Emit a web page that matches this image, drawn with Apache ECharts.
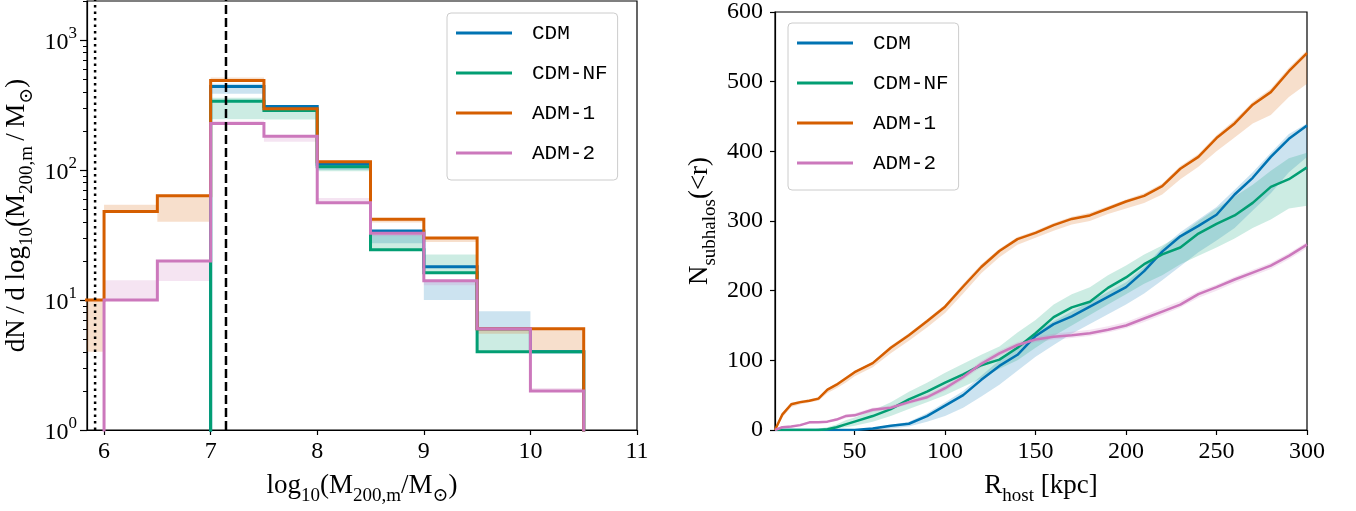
<!DOCTYPE html>
<html><head><meta charset="utf-8">
<script src="https://cdn.jsdelivr.net/npm/echarts@6/dist/echarts.min.js"></script>
<style>html,body{margin:0;padding:0;background:#fff}#c{width:1356px;height:511px}</style>
</head><body><div id="c"></div>
<script>
// ---------- shared ----------
const seriesNames = ['CDM', 'CDM-NF', 'ADM-1', 'ADM-2'];
const seriesColors = ['#0173b2', '#029e73', '#d55e00', '#cc78bc'];
const bandColors = ['rgba(1,115,178,0.2)', 'rgba(2,158,115,0.2)', 'rgba(213,94,0,0.2)', 'rgba(204,120,188,0.2)'];

// ---------- left panel: mass function histogram ----------
const binEdges = [5.5, 6, 6.5, 7, 7.5, 8, 8.5, 9, 9.5, 10, 10.5];
const histCDM   = [0, 0, 0, 440, 309, 111, 34, 18, 6, 4];
const histCDMNF = [0, 0, 0, 338, 288, 106, 24.4, 16.2, 4, 4];
const histADM1  = [10, 48, 63.5, 490, 297, 116, 41.9, 30, 6, 6];
const histADM2  = [0, 10, 20, 228, 182, 56, 32.7, 14.1, 6, 2];
const bandLoCDM   = [null, null, null, 387, 280, 100, 27.4, 10, 6.1, null];
const bandHiCDM   = [null, null, null, 462, 310, 112, 34.3, 14.2, 8.2, null];
const bandLoCDMNF = [null, null, null, 246, 245, 98, 24.4, 16, 4, null];
const bandHiCDMNF = [null, null, null, 361, 288, 106, 31.7, 22.4, 6, null];
const bandLoADM1  = [4, 48, 40, 485, 290, 110, 39.5, 28, 5.5, 4];
const bandHiADM1  = [10, 54, 63.5, 515, 300, 118, 42, 30, 6, 6];
const bandLoADM2  = [null, 10, 14, 222, 165, 56, 31, 13, 5.8, 2];
const bandHiADM2  = [null, 14.2, 20, 240, 182, 61, 33, 14.1, 6, 2.1];
const massTicks = [6, 7, 8, 9, 10, 11];
const countMajorTicks = [1, 10, 100, 1000];
const countMinorTicks = [2,3,4,5,6,7,8,9,20,30,40,50,60,70,80,90,200,300,400,500,600,700,800,900,2000];
const resolutionLimit = 5.916;   // dotted line
const convergenceLimit = 7.144;  // dashed line

// ---------- right panel: cumulative radial distribution ----------
const radius = [6,10,15,20,25,30,35,40,45,50,60,70,80,90,100,110,120,130,140,150,160,170,180,190,200,210,220,230,240,250,260,270,280,290,300];
const nCDM   = [0,0,0,0,0,0,0,0,0,0,2,6,9,20,35,50,72,92,108,135,152,163,177,191,205,228,256,278,293,309,338,362,392,418,437];
const nCDMNF = [0,0,0,0,0,0,1,4,8,12,20,30,44,55,68,80,93,101,118,139,162,176,184,204,219,238,252,262,282,296,308,326,349,360,377];
const nADM1  = [0,22,37,40,42,45,58,65,74,83,96,118,136,156,177,206,234,257,274,283,294,303,308,318,328,336,350,375,392,419,440,467,485,515,541];
const nADM2  = [0,4,5,7,11,11,12,15,20,21,29,32,40,47,60,76,95,110,122,130,134,136,139,144,150,160,170,180,195,205,216,226,236,250,266];
const nLoCDM   = [0,0,0,0,0,0,0,0,0,0,0,2,5,12,20,32,48,65,85,105,122,138,152,166,180,196,215,235,255,272,290,315,340,370,392];
const nHiCDM   = [0,0,0,0,0,0,0,0,0,0,3,7,12,24,40,56,78,100,120,140,156,170,184,198,212,234,262,284,302,320,345,370,398,425,440];
const nLoCDMNF = [0,0,0,0,0,0,0,2,4,6,12,20,30,40,50,62,74,88,100,118,135,150,165,180,195,210,222,238,250,262,275,290,302,318,322];
const nHiCDMNF = [0,0,0,0,0,2,4,8,14,18,28,40,55,68,82,95,108,120,140,158,180,195,205,222,236,252,265,280,300,318,335,352,372,390,398];
const nLoADM1  = [0,18,33,37,40,42,53,60,68,77,90,110,128,147,168,196,225,248,266,276,286,295,300,310,318,326,338,360,378,400,420,440,452,478,497];
const nHiADM1  = [0,24,39,42,44,47,60,67,76,85,98,121,139,159,180,210,238,260,277,286,297,306,312,321,331,340,354,379,396,423,445,471,490,520,545];
const nLoADM2  = [0,3,4,6,9,10,11,13,17,19,26,30,37,44,56,72,90,106,118,126,130,132,135,140,146,155,165,176,190,200,211,221,231,245,261];
const nHiADM2  = [0,5,6,9,12,12,14,17,22,24,32,35,43,51,64,80,99,114,126,134,138,141,144,149,155,165,175,185,199,209,220,230,240,254,270];
const radiusTicks = [50, 100, 150, 200, 250, 300];

// ---------- build ----------
const FLOOR = 0.1; // empty bins sit below the log axis
const hists = [histCDM, histCDMNF, histADM1, histADM2];
const bandLo = [bandLoCDM, bandLoCDMNF, bandLoADM1, bandLoADM2];
const bandHi = [bandHiCDM, bandHiCDMNF, bandHiADM1, bandHiADM2];
const cumul = [nCDM, nCDMNF, nADM1, nADM2];
const cumLo = [nLoCDM, nLoCDMNF, nLoADM1, nLoADM2];
const cumHi = [nHiCDM, nHiCDMNF, nHiADM1, nHiADM2];

function stepPoints(vals) {
  const pts = [[binEdges[0], FLOOR]];
  vals.forEach((v, i) => {
    const y = v > 0 ? v : FLOOR;
    pts.push([binEdges[i], y]);
    pts.push([binEdges[i + 1], y]);
  });
  pts.push([binEdges[binEdges.length - 1], FLOOR]);
  return pts;
}

const serif = '"Liberation Serif", "DejaVu Serif", serif';
const mono = '"Liberation Mono", "DejaVu Sans Mono", monospace';
const titleRich = {
  m: { fontFamily: serif, fontSize: 27, lineHeight: 34, verticalAlign: 'top', color: '#000' },
  s: { fontFamily: serif, fontSize: 19, lineHeight: 34, verticalAlign: 'bottom', color: '#000' }
};
const axisLineStyle = { lineStyle: { color: '#000', width: 1.2 } };
const tickStyle = { show: true, length: 5, lineStyle: { color: '#000', width: 1.2 } };
const labelBase = { color: '#000', fontFamily: serif, fontSize: 24 };

const series = [];
// histogram bands
seriesNames.forEach((name, k) => {
  const data = [];
  hists[k].forEach((v, i) => {
    if (bandLo[k][i] != null) data.push([binEdges[i], binEdges[i + 1], bandLo[k][i], bandHi[k][i]]);
  });
  series.push({
    type: 'custom', name: name + ' band', xAxisIndex: 0, yAxisIndex: 0, z: 1, silent: true,
    encode: { x: [0, 1], y: [2, 3] },
    data: data,
    renderItem: function (params, api) {
      const p0 = api.coord([api.value(0), api.value(3)]);
      const p1 = api.coord([api.value(1), api.value(2)]);
      const rect = echarts.graphic.clipRectByRect(
        { x: p0[0], y: p0[1], width: p1[0] - p0[0], height: Math.max(p1[1] - p0[1], 1.5) },
        { x: params.coordSys.x, y: params.coordSys.y, width: params.coordSys.width, height: params.coordSys.height });
      if (!rect) return null;
      return { type: 'rect', shape: rect, style: { fill: bandColors[k] } };
    }
  });
});
// histogram step lines
seriesNames.forEach((name, k) => {
  series.push({
    type: 'line', name: name, xAxisIndex: 0, yAxisIndex: 0, z: 3 + k,
    data: stepPoints(hists[k]), showSymbol: false, clip: true,
    lineStyle: { color: seriesColors[k], width: 3, join: 'miter' }, itemStyle: { color: seriesColors[k] }
  });
});
// vertical reference lines
series.push({
  type: 'line', name: 'res', xAxisIndex: 0, yAxisIndex: 0, z: 8, showSymbol: false, silent: true,
  data: [[resolutionLimit, FLOOR], [resolutionLimit, 1e5]],
  lineStyle: { color: '#000', width: 2.5, type: [2.5, 4] }
});
series.push({
  type: 'line', name: 'conv', xAxisIndex: 0, yAxisIndex: 0, z: 8, showSymbol: false, silent: true,
  data: [[convergenceLimit, FLOOR], [convergenceLimit, 1e5]],
  lineStyle: { color: '#000', width: 2.5, type: [9, 4] }
});
// right bands
seriesNames.forEach((name, k) => {
  series.push({
    type: 'custom', name: name + ' range', xAxisIndex: 1, yAxisIndex: 2, z: 1, silent: true,
    encode: { x: 0, y: [1, 2] },
    data: radius.map((r, i) => [r, cumLo[k][i], cumHi[k][i]]),
    renderItem: function (params, api) {
      if (params.dataIndex !== 0) return null;
      const pts = [];
      radius.forEach((r, i) => pts.push(api.coord([r, cumHi[k][i]])));
      for (let i = radius.length - 1; i >= 0; i--) pts.push(api.coord([radius[i], cumLo[k][i]]));
      return { type: 'polygon', shape: { points: pts }, style: { fill: bandColors[k] } };
    }
  });
});
// right lines
seriesNames.forEach((name, k) => {
  series.push({
    type: 'line', name: name, xAxisIndex: 1, yAxisIndex: 2, z: 3 + k,
    data: radius.map((r, i) => [r, cumul[k][i]]), showSymbol: false,
    lineStyle: { color: seriesColors[k], width: 2.5 }, itemStyle: { color: seriesColors[k] }
  });
});

const legendBase = {
  orient: 'vertical', data: seriesNames, icon: 'rect', itemWidth: 56, itemHeight: 3, itemGap: 16,
  padding: [8, 10, 15, 9], backgroundColor: '#fff', borderColor: '#cccccc', borderWidth: 1, borderRadius: 4,
  selectedMode: false,
  textStyle: { fontFamily: mono, fontSize: 21, lineHeight: 24, color: '#000', padding: [0, 0, 0, 15] }
};

const option = {
  animation: false,
  backgroundColor: '#fff',
  grid: [
    { left: 87, right: 719, top: 1, bottom: 80, show: true, borderColor: '#000', borderWidth: 1.2, backgroundColor: 'transparent' },
    { left: 775, right: 49, top: 11, bottom: 80, show: true, borderColor: '#000', borderWidth: 1.2, backgroundColor: 'transparent' }
  ],
  legend: [
    Object.assign({}, legendBase, { left: 447, top: 13 }),
    Object.assign({}, legendBase, { left: 788, top: 23 })
  ],
  xAxis: [
    {
      type: 'value', gridIndex: 0, min: 5.84, max: 11,
      axisLine: axisLineStyle, splitLine: { show: false },
      axisTick: Object.assign({}, tickStyle, { customValues: massTicks }),
      axisLabel: Object.assign({}, labelBase, { margin: 10, customValues: massTicks }),
      name: '{m|log}{s|10}{m|(M}{s|200,m}{m|/M}{s|⊙}{m|)}', nameLocation: 'middle', nameGap: 42,
      nameTextStyle: { rich: titleRich }
    },
    {
      type: 'value', gridIndex: 1, min: 6, max: 300,
      axisLine: axisLineStyle, splitLine: { show: false },
      axisTick: Object.assign({}, tickStyle, { customValues: radiusTicks }),
      axisLabel: Object.assign({}, labelBase, { margin: 10, customValues: radiusTicks }),
      name: '{m|R}{s|host}{m| [kpc]}', nameLocation: 'middle', nameGap: 42,
      nameTextStyle: { rich: titleRich }
    }
  ],
  yAxis: [
    {
      type: 'log', logBase: 10, gridIndex: 0, min: 1, max: 2000, interval: 1,
      axisLine: axisLineStyle, splitLine: { show: false }, minorTick: { show: false },
      axisTick: Object.assign({}, tickStyle, { length: 7, customValues: countMajorTicks }),
      axisLabel: Object.assign({}, labelBase, {
        margin: 10,
        customValues: countMajorTicks,
        formatter: function (v) { return '{b|10}{p|' + Math.round(Math.log10(v)) + '}'; },
        rich: {
          b: { fontFamily: serif, fontSize: 24, lineHeight: 30, verticalAlign: 'bottom', color: '#000' },
          p: { fontFamily: serif, fontSize: 17, lineHeight: 16, verticalAlign: 'top', color: '#000' }
        }
      }),
      name: '{m|dN\u2009/\u2009d log}{s|10}{m|(M}{s|200,m}{m|\u2009/\u2009M}{s|⊙}{m|)}',
      nameLocation: 'middle', nameGap: 50, nameRotate: 90,
      nameTextStyle: { rich: titleRich }
    },
    {
      type: 'log', logBase: 10, gridIndex: 0, min: 1, max: 2000, interval: 1, position: 'left',
      axisLine: { show: false }, splitLine: { show: false }, axisLabel: { show: false },
      axisTick: { show: true, length: 4, lineStyle: { color: '#000', width: 1 }, customValues: countMinorTicks }
    },
    {
      type: 'value', gridIndex: 1, min: 0, max: 600, interval: 100,
      axisLine: axisLineStyle, splitLine: { show: false },
      axisTick: tickStyle,
      axisLabel: Object.assign({}, labelBase, { margin: 12 }),
      name: '{m|N}{s|subhalos}{m|(<r)}', nameLocation: 'middle', nameGap: 55, nameRotate: 90,
      nameTextStyle: { rich: titleRich }
    }
  ],
  series: series
};

const chart = echarts.init(document.getElementById('c'), null, { renderer: 'canvas' });
chart.setOption(option);
</script>
</body></html>
